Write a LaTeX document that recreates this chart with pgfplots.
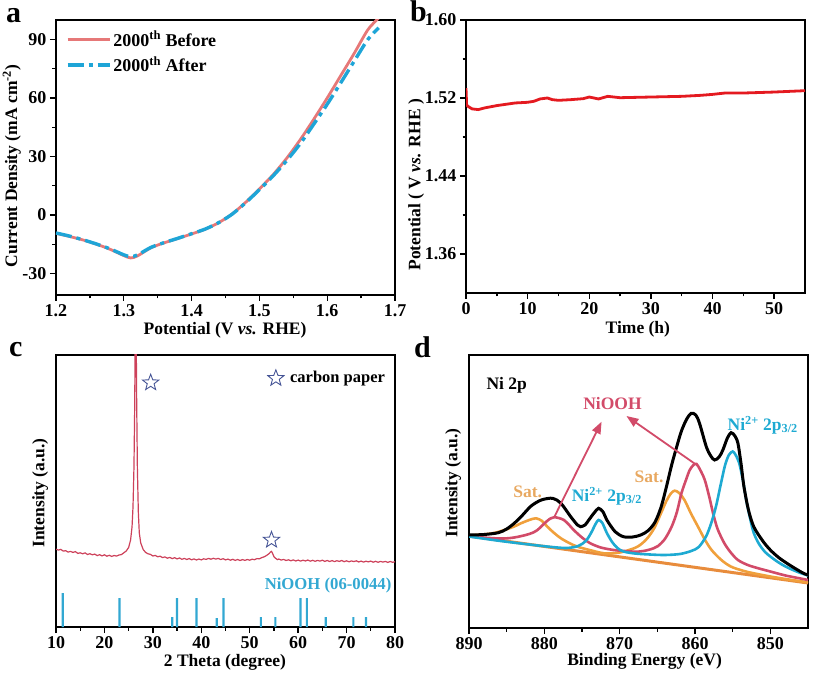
\documentclass[border=0pt]{standalone}
\usepackage{fontspec}
\setmainfont{Liberation Serif}
\usepackage{pgfplots}
\pgfplotsset{compat=1.18}
\usetikzlibrary{arrows.meta}

\definecolor{befcol}{RGB}{230,120,120}
\definecolor{aftcol}{RGB}{30,165,215}
\definecolor{stabcol}{RGB}{228,26,32}
\definecolor{xrdcol}{RGB}{205,65,90}
\definecolor{stickcol}{RGB}{50,168,210}
\definecolor{starcol}{RGB}{70,85,150}
\definecolor{satcol}{RGB}{240,160,60}
\definecolor{bgcol}{RGB}{232,140,60}
\definecolor{sattxt}{RGB}{232,168,96}
\definecolor{nicol}{RGB}{30,170,210}
\definecolor{oohcol}{RGB}{210,75,105}

% outlined five-point star
\pgfdeclareplotmark{ostar}{%
  \pgfpathmoveto{\pgfpointpolar{90}{\pgfplotmarksize}}%
  \pgfpathlineto{\pgfpointpolar{126}{0.42\pgfplotmarksize}}%
  \pgfpathlineto{\pgfpointpolar{162}{\pgfplotmarksize}}%
  \pgfpathlineto{\pgfpointpolar{198}{0.42\pgfplotmarksize}}%
  \pgfpathlineto{\pgfpointpolar{234}{\pgfplotmarksize}}%
  \pgfpathlineto{\pgfpointpolar{270}{0.42\pgfplotmarksize}}%
  \pgfpathlineto{\pgfpointpolar{306}{\pgfplotmarksize}}%
  \pgfpathlineto{\pgfpointpolar{342}{0.42\pgfplotmarksize}}%
  \pgfpathlineto{\pgfpointpolar{18}{\pgfplotmarksize}}%
  \pgfpathlineto{\pgfpointpolar{54}{0.42\pgfplotmarksize}}%
  \pgfpathclose\pgfusepathqstroke}

\newcommand{\bigf}{\fontsize{18}{20}\selectfont\bfseries}
\newcommand{\labf}{\fontsize{17.5}{20}\selectfont\bfseries}

\pgfplotsset{
  panel/.style={
    scale only axis, anchor=south west,
    axis line style={line width=1.6pt},
    tick align=outside, xtick pos=bottom, ytick pos=left,
    major tick length=6pt, minor tick length=3.5pt,
    tick style={line width=1.4pt, black},
    tick label style={font=\bigf},
    label style={font=\labf},
    /pgf/number format/assume math mode=true,
  },
}

\begin{document}
\begin{tikzpicture}
\path[use as bounding box] (0pt,0pt) rectangle (816pt,680pt);

% ---------------- a ----------------
\begin{axis}[panel,
  at={(56pt,385pt)}, width=339pt, height=275pt,
  xmin=1.2, xmax=1.7, ymin=-41, ymax=100,
  xtick={1.2,1.3,...,1.7}, minor x tick num=1,
  ytick={-30,0,30,60,90}, minor y tick num=1,
  xlabel={Potential (V \textit{vs.} RHE)},
  ylabel={Current Density (mA cm\textsuperscript{-2})},
  xlabel style={at={(rel axis cs:0.4985,-0.127)}, anchor=center},
  ylabel style={at={(rel axis cs:-0.13,0.469)}, anchor=center},
  legend style={draw=none, fill=none, at={(rel axis cs:0.02,0.975)},
    anchor=north west, font=\bigf, row sep=5pt},
  legend cell align=left,
  legend image code/.code={\draw[#1] (0pt,0pt) -- (42pt,0pt);},
]
\addplot[befcol, line width=2.8pt, smooth] coordinates {
 (1.20,-9.4) (1.22,-11.0) (1.24,-12.8) (1.26,-15.0) (1.28,-17.6)
 (1.30,-20.8) (1.31,-22.0) (1.32,-21.0) (1.34,-16.8) (1.36,-14.2)
 (1.38,-12.0) (1.40,-9.7) (1.42,-7.3) (1.44,-3.9) (1.46,0.6)
 (1.48,6.6) (1.50,13.4) (1.52,20.6) (1.54,29.0) (1.56,38.5)
 (1.58,49.0) (1.60,60.0) (1.62,71.5) (1.64,83.0) (1.66,95.0) (1.676,101)
};
\addlegendentry{2000\textsuperscript{th} Before}
\addplot[aftcol, line width=3.4pt, smooth, dash pattern=on 16pt off 5pt on 4pt off 5pt] coordinates {
 (1.20,-9.2) (1.22,-10.8) (1.24,-12.7) (1.26,-14.9) (1.28,-17.4)
 (1.30,-20.4) (1.31,-21.3) (1.32,-20.5) (1.34,-16.6) (1.36,-14.1)
 (1.38,-11.9) (1.40,-9.6) (1.42,-7.2) (1.44,-3.9) (1.46,0.5)
 (1.48,6.4) (1.50,13.0) (1.52,20.0) (1.54,27.8) (1.56,36.5)
 (1.58,46.5) (1.60,56.8) (1.62,67.8) (1.64,79.0) (1.66,90.0) (1.676,96.0)
};
\addlegendentry{2000\textsuperscript{th} After}
\end{axis}

% ---------------- b ----------------
\begin{axis}[panel,
  at={(466pt,387pt)}, width=339pt, height=273pt,
  xmin=0, xmax=55, ymin=1.32, ymax=1.60,
  xtick={0,10,...,50}, minor x tick num=1,
  ytick={1.36,1.44,1.52,1.60}, minor y tick num=1,
  yticklabel style={/pgf/number format/.cd, fixed, fixed zerofill, precision=2},
  xlabel={Time (h)},
  ylabel={Potential ( V \textit{vs.} RHE )},
  xlabel style={at={(rel axis cs:0.507,-0.132)}, anchor=center},
  ylabel style={at={(rel axis cs:-0.147,0.396)}, anchor=center},
]
\addplot[stabcol, line width=2.8pt] coordinates {
 (0,1.5302) (0.1,1.513) (0.3,1.5115) (1,1.5088) (2,1.5081) (3,1.5098)
 (5,1.5122) (8,1.5149) (10,1.5156) (11,1.5166) (12,1.519) (13.2,1.5200)
 (14,1.5183) (15,1.5176) (17,1.5183) (19,1.5193) (20,1.5210) (21.5,1.5190)
 (23,1.5217) (24,1.5210) (25,1.5203) (30,1.5210) (35,1.5217) (38,1.5227)
 (40,1.5237) (42,1.5251) (45,1.5251) (50,1.5261) (55,1.5275)
};
\end{axis}

% ---------------- c ----------------
\begin{axis}[panel,
  at={(56pt,53pt)}, width=339pt, height=272pt,
  xmin=10, xmax=80, ymin=0, ymax=272,
  xtick={10,20,...,80}, minor x tick num=1, ytick=\empty,
  xlabel={2 Theta (degree)},
  ylabel={Intensity (a.u.)},
  xlabel style={at={(rel axis cs:0.4985,-0.129)}, anchor=center},
  ylabel style={at={(rel axis cs:-0.047,0.493)}, anchor=center},
]
\addplot[xrdcol, line width=1.2pt] table {
x y
10.0 77.8
10.5 76.9
11.0 77.6
11.5 75.9
12.0 76.3
12.5 74.9
13.0 75.6
13.5 74.6
14.0 75.4
14.5 73.6
15.0 74.2
15.5 73.2
16.0 74.1
16.5 72.5
17.0 73.3
17.5 72.2
18.0 72.9
18.5 71.4
19.0 72.3
19.5 71.1
20.0 72.2
20.5 70.8
21.0 71.7
21.5 70.6
22.0 71.5
22.5 70.9
23.0 72.0
23.5 72.4
24.0 74.2
24.5 76.0
25.0 79.5
25.4 87
25.7 100
25.9 120
26.1 160
26.25 220
26.35 290
26.45 330
26.55 300
26.65 230
26.8 160
27.0 115
27.2 94
27.5 84
28.0 77.5
28.5 74.6
29.0 73.2
29.5 72.6
30.0 71.0
30.5 71.6
31.0 70.2
31.5 70.8
32.0 69.4
32.5 70.1
33.0 68.8
33.5 69.6
34.0 68.4
34.5 69.3
35.0 68.1
35.5 69.0
36.0 67.7
36.5 68.6
37.0 67.5
37.5 68.4
38.0 67.2
38.5 68.1
39.0 67.0
39.5 68.0
40.0 67.1
40.5 68.2
41.0 67.6
41.5 68.6
42.0 67.8
42.5 68.7
43.0 67.9
43.5 68.6
44.0 67.5
44.5 68.3
45.0 67.1
45.5 67.9
46.0 66.8
46.5 67.7
47.0 66.6
47.5 67.5
48.0 66.5
48.5 67.4
49.0 66.6
49.5 67.5
50.0 66.8
50.5 67.8
51.0 67.3
51.5 68.4
52.0 68.2
52.5 69.4
53.0 70.2
53.5 71.6
54.0 73.4
54.3 75.0
54.5 75.6
54.7 73.8
55.0 70.4
55.3 68.9
55.7 67.4
56.0 68.0
56.5 66.9
57.0 67.6
57.5 66.5
58.0 67.2
58.5 66.2
59.0 67.1
59.5 66.0
60.0 66.9
60.5 65.9
61.0 66.8
61.5 66.0
62.0 67.0
62.5 65.8
63.0 66.7
63.5 65.7
64.0 66.6
64.5 65.9
65.0 66.8
65.5 65.6
66.0 66.5
66.5 65.5
67.0 66.4
67.5 65.4
68.0 66.3
68.5 65.6
69.0 66.5
69.5 65.3
70.0 66.2
70.5 65.2
71.0 66.1
71.5 65.4
72.0 66.2
72.5 65.0
73.0 65.9
73.5 64.9
74.0 65.8
74.5 65.1
75.0 65.9
75.5 64.8
76.0 65.7
76.5 64.7
77.0 65.6
77.5 64.9
78.0 65.6
78.5 64.6
79.0 65.5
79.5 64.7
80.0 65.3
};
\addplot[ybar, bar width=2.2pt, fill=stickcol, draw=none] coordinates {
 (11.4,34) (23.1,29) (34.0,10) (35.0,29) (39.0,29) (43.2,9) (44.6,29)
 (52.3,10) (55.3,10) (60.5,29) (61.8,29) (65.7,10) (71.4,10) (74.0,10)
};
\addplot[only marks, mark=ostar, mark size=8.5pt,
  mark options={draw=starcol, line width=0.9pt}] coordinates {
 (29.55,244.3) (54.5,87) (55.4,248.7)
};
\node[anchor=west, inner sep=0pt, font=\fontsize{16.5}{18}\selectfont\bfseries]
  at (axis cs:58.3,248.7) {carbon paper};
\node[anchor=east, inner sep=0pt, text=stickcol, font=\fontsize{16.7}{18}\selectfont\bfseries]
  at (axis cs:79.3,42) {NiOOH (06-0044)};
\end{axis}

% ---------------- d ----------------
\begin{axis}[panel,
  at={(469pt,52pt)}, width=339pt, height=273pt,
  x dir=reverse, xmin=845, xmax=890, ymin=0, ymax=273,
  xtick={850,860,...,890}, minor x tick num=1, ytick=\empty,
  xlabel={Binding Energy (eV)},
  ylabel={Intensity (a.u.)},
  xlabel style={at={(rel axis cs:0.518,-0.123)}, anchor=center},
  ylabel style={at={(rel axis cs:-0.047,0.531)}, anchor=center},
]
\addplot[bgcol, line width=3pt] coordinates {(890,92) (845,45)};
\addplot[satcol, line width=2.6pt, smooth] coordinates {
 (890,92.5) (887,94.5) (885.3,98) (884,101.5) (883.1,104.7) (882,108)
 (881.1,109.7) (880.3,107) (879.6,101.3) (878.7,95) (877.8,89.7) (876.7,85)
 (875.6,81.3) (874,78) (872.1,74.7) (870.5,75) (869.5,76.3) (868,80)
 (867.2,83.5) (866.3,90) (865.4,100) (864.5,115) (863.8,127) (863.2,134.5)
 (862.7,137.3) (862.1,135) (861.4,128) (860.5,114) (859.6,101.3) (858.7,88.5)
 (857.8,78) (856.5,68) (855.2,61.3) (853.5,57) (852.2,54.7) (850,51.5)
 (848,49) (845.6,46.3) (845,46)
};
\addplot[oohcol, line width=2.6pt, smooth] coordinates {
 (890,91.5) (886,89.5) (884,90.5) (882,94) (881,97.5) (880,104.5)
 (879.3,109) (878.7,110.7) (878.1,110) (877.4,108) (876.7,103) (876.1,98)
 (875,90.5) (873.9,84.7) (872.5,80.5) (870.8,78) (869,76.8) (867.7,76.3)
 (866.5,77.5) (865.5,79.7) (864.9,82) (864,89) (863.1,101.3) (862.4,116)
 (861.8,134.7) (861.2,148) (860.7,158) (860.2,163) (859.8,164) (859.3,158)
 (858.7,148) (858.1,131) (857.6,114.7) (857.0,99) (856.1,84.7) (855.2,75)
 (854.3,68) (853,63) (851.5,59.5) (850,56.5) (848,52.5) (846,49.5) (845,48)
};
\addplot[nicol, line width=2.6pt, smooth] coordinates {
 (890,91.5) (886,87.2) (882,83.5) (879,81.0) (877,80.0) (875.5,82.0)
 (874.5,87) (873.8,95) (873.2,104) (872.8,108) (872.3,105) (871.7,95)
 (871.0,86) (870.3,80) (869.5,76.5) (868,74.5) (866,73.5) (864,73)
 (862,74) (860.5,77) (859.5,81) (858.5,92) (857.8,106) (857.2,122)
 (856.6,143) (856.0,163) (855.5,173) (855.0,176.5) (854.6,173) (854.1,164)
 (853.6,146) (853.2,128) (852.7,110) (852.2,95) (851.5,84) (850.7,76)
 (850,71.5) (849,66) (848,61.5) (847,58) (846,55) (845,52.5)
};
\addplot[black, line width=3pt, smooth] coordinates {
 (890,93) (888,93.5) (886.1,95.3) (885,99) (884,104.7) (883,112)
 (881.75,122) (880.4,128) (878.9,129.7) (877.8,124.7) (876.5,111.3)
 (875.6,103) (875.2,101.3) (874.6,103) (874.1,108) (873.4,115) (872.8,119.7)
 (872.2,116) (871.7,108) (870.6,96.3) (869.5,91.3) (868.3,91) (867.2,93)
 (866.2,97.5) (865.3,106) (864.5,121) (863.8,141) (863.1,163) (862.4,182)
 (861.8,197) (861.1,209) (860.5,214.7) (859.9,213) (859.4,204.7) (858.5,181.3)
 (857.9,172) (857.4,168) (856.8,171) (856.3,178) (855.7,190) (855.2,195.3)
 (854.7,192) (854.3,184.7) (853.9,165) (853.5,141.3) (852.9,118)
 (852.2,101.3) (851,87) (850,78) (848.9,70.5) (847.8,64.7) (846.7,59.5)
 (845.6,54.7) (845,53)
};
\draw[oohcol, line width=1.8pt, -{Triangle[length=12pt,width=9pt]}]
  (axis cs:878.7,110.7) -- (axis cs:872.4,206.3);
\draw[oohcol, line width=1.8pt, -{Triangle[length=12pt,width=9pt]}]
  (axis cs:860.1,164.7) -- (axis cs:869.1,212);
\node[anchor=west, inner sep=0pt, font=\labf] at (axis cs:887.7,243) {Ni 2p};
\node[inner sep=0pt, text=oohcol, font=\labf] at (axis cs:870.95,224.7) {NiOOH};
\node[inner sep=0pt, text=sattxt, font=\labf] at (axis cs:882.2,136.3) {Sat.};
\node[inner sep=0pt, text=sattxt, font=\labf] at (axis cs:866.1,151.3) {Sat.};
\node[inner sep=0pt, text=nicol, font=\labf] at (axis cs:871.7,132) {Ni\textsuperscript{2+} 2p\textsubscript{3/2}};
\node[inner sep=0pt, text=nicol, font=\labf] at (axis cs:851,203) {Ni\textsuperscript{2+} 2p\textsubscript{3/2}};
\end{axis}

% panel letters
\node[anchor=base west, inner sep=0pt, font=\fontsize{30}{32}\selectfont\bfseries] at (6pt,657pt) {a};
\node[anchor=base west, inner sep=0pt, font=\fontsize{30}{32}\selectfont\bfseries] at (410pt,658pt) {b};
\node[anchor=base west, inner sep=0pt, font=\fontsize{30}{32}\selectfont\bfseries] at (9pt,323pt) {c};
\node[anchor=base west, inner sep=0pt, font=\fontsize{30}{32}\selectfont\bfseries] at (414pt,322pt) {d};
\end{tikzpicture}
\end{document}
